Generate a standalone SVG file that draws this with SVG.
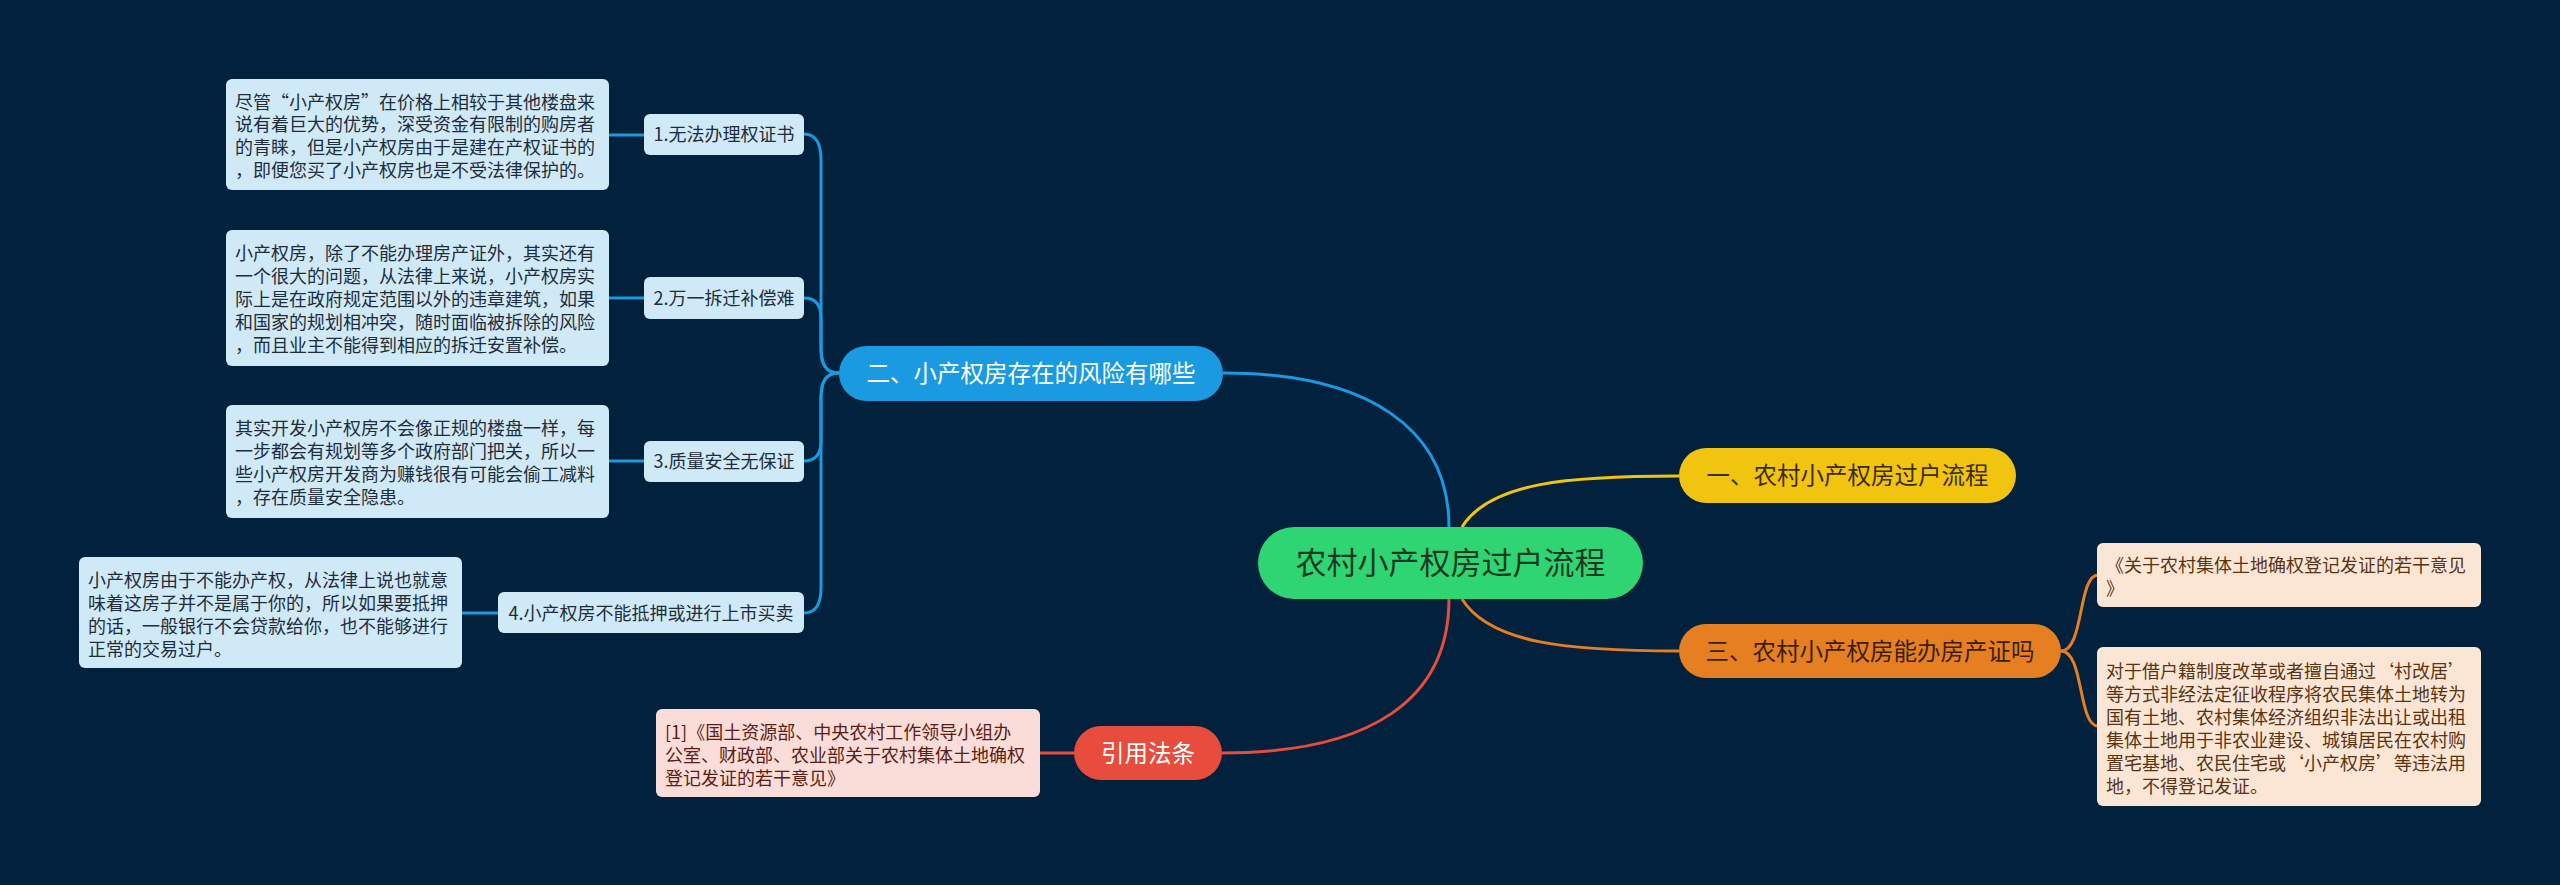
<svg xmlns="http://www.w3.org/2000/svg" width="2560" height="885" viewBox="0 0 2560 885">
<style>
text{font-family:"Noto Sans CJK SC","Noto Sans",sans-serif;}
.d{font-size:18px;fill:#1f2d3a;}
.dl{font-size:18px;fill:#1f2d3a;text-anchor:middle;}
.bx{fill:#cfe9f7;}
.br{font-size:23.5px;text-anchor:middle;}
.cb{fill:none;stroke:#1a9ae0;stroke-width:3;}
.rbox{fill:#fbe6d6;}
.rt{font-size:18px;fill:#5a3412;}
</style>
<rect x="0" y="0" width="2560" height="885" fill="#02213d"/>
<g id="connectors">
<path class="cb" d="M1449,527 C1449,430 1370,373 1223,373"/>
<path class="cb" d="M839,373 C826,373 821,365 821,345 L821,160 C821,143 816,134 804,134"/>
<path class="cb" d="M839,373 C826,373 821,365 821,350 L821,318 C821,306 816,298 804,298"/>
<path class="cb" d="M839,373 C826,373 821,381 821,396 L821,441 C821,453 816,461 804,461"/>
<path class="cb" d="M839,373 C826,373 821,381 821,401 L821,588 C821,604 816,613 804,613"/>
<path class="cb" d="M609,135 L644,135"/>
<path class="cb" d="M609,298 L644,298"/>
<path class="cb" d="M609,461 L644,461"/>
<path class="cb" d="M462,613 L498,613"/>
<path fill="none" stroke="#f1c40f" stroke-width="3" d="M1462,527 C1490,482 1570,476 1679,476"/>
<path fill="none" stroke="#e67e22" stroke-width="3" d="M1462,599 C1490,644 1570,651 1679,651"/>
<path fill="none" stroke="#e74c3c" stroke-width="3" d="M1449,599 C1449,700 1370,753 1222,753"/>
<path fill="none" stroke="#e74c3c" stroke-width="3" d="M1040,753 L1074,753"/>
<path fill="none" stroke="#e67e22" stroke-width="3" d="M2061,651 C2084,651 2078,575 2098,575"/>
<path fill="none" stroke="#e67e22" stroke-width="3" d="M2061,651 C2084,651 2078,726 2098,726"/>
</g>
<g id="central">
<rect x="1258" y="527" width="385" height="72" rx="36" fill="#2fd573"/>
<text x="1450.5" y="574" font-size="31" text-anchor="middle" fill="#183a22">农村小产权房过户流程</text>
</g>
<g id="branch2">
<rect x="839" y="346" width="384" height="55" rx="27.5" fill="#1a9ae0"/>
<text class="br" x="1031" y="381.5" fill="#ffffff">二、小产权房存在的风险有哪些</text>
</g>
<g id="branch1">
<rect x="1679" y="448" width="337" height="55" rx="27.5" fill="#f1c40f"/>
<text class="br" x="1847.5" y="484" fill="#3a2c00">一、农村小产权房过户流程</text>
</g>
<g id="branch3">
<rect x="1679" y="624" width="382" height="54" rx="27" fill="#e67e22"/>
<text class="br" x="1870" y="659.5" fill="#3a1e00">三、农村小产权房能办房产证吗</text>
</g>
<g id="cite">
<rect x="1074" y="726" width="148" height="54" rx="27" fill="#e74c3c"/>
<text class="br" x="1148" y="761.5" fill="#ffffff">引用法条</text>
</g>
<g id="c1">
<rect class="bx" x="644" y="114" width="160" height="41" rx="6"/>
<text class="dl" x="724" y="141">1.无法办理权证书</text>
</g>
<g id="c2">
<rect class="bx" x="644" y="277" width="160" height="42" rx="6"/>
<text class="dl" x="724" y="304.5">2.万一拆迁补偿难</text>
</g>
<g id="c3">
<rect class="bx" x="644" y="441" width="160" height="41" rx="6"/>
<text class="dl" x="724" y="467.5">3.质量安全无保证</text>
</g>
<g id="c4">
<rect class="bx" x="498" y="592" width="306" height="41" rx="6"/>
<text class="dl" x="651" y="619.5">4.小产权房不能抵押或进行上市买卖</text>
</g>
<g id="d1">
<rect class="bx" x="226" y="79" width="383" height="111" rx="6"/>
<text class="d" x="235" y="108.5">尽管“小产权房”在价格上相较于其他楼盘来</text>
<text class="d" x="235" y="131.3">说有着巨大的优势，深受资金有限制的购房者</text>
<text class="d" x="235" y="154.1">的青睐，但是小产权房由于是建在产权证书的</text>
<text class="d" x="235" y="176.9">，即便您买了小产权房也是不受法律保护的。</text>
</g>
<g id="d2">
<rect class="bx" x="226" y="230" width="383" height="136" rx="6"/>
<text class="d" x="235" y="259.5">小产权房，除了不能办理房产证外，其实还有</text>
<text class="d" x="235" y="282.7">一个很大的问题，从法律上来说，小产权房实</text>
<text class="d" x="235" y="305.9">际上是在政府规定范围以外的违章建筑，如果</text>
<text class="d" x="235" y="329.1">和国家的规划相冲突，随时面临被拆除的风险</text>
<text class="d" x="235" y="352.3">，而且业主不能得到相应的拆迁安置补偿。</text>
</g>
<g id="d3">
<rect class="bx" x="226" y="405" width="383" height="113" rx="6"/>
<text class="d" x="235" y="434.5">其实开发小产权房不会像正规的楼盘一样，每</text>
<text class="d" x="235" y="457.5">一步都会有规划等多个政府部门把关，所以一</text>
<text class="d" x="235" y="480.5">些小产权房开发商为赚钱很有可能会偷工减料</text>
<text class="d" x="235" y="503.5">，存在质量安全隐患。</text>
</g>
<g id="d4">
<rect class="bx" x="79" y="557" width="383" height="111" rx="6"/>
<text class="d" x="88" y="586.5">小产权房由于不能办产权，从法律上说也就意</text>
<text class="d" x="88" y="609.5">味着这房子并不是属于你的，所以如果要抵押</text>
<text class="d" x="88" y="632.5">的话，一般银行不会贷款给你，也不能够进行</text>
<text class="d" x="88" y="655.5">正常的交易过户。</text>
</g>
<g id="ref">
<rect x="656" y="709" width="384" height="88" rx="6" fill="#fadcd8"/>
<text x="665" y="738.5" font-size="18" fill="#5c1d14">[1]《国土资源部、中央农村工作领导小组办</text>
<text x="665" y="761.5" font-size="18" fill="#5c1d14">公室、财政部、农业部关于农村集体土地确权</text>
<text x="665" y="784.5" font-size="18" fill="#5c1d14">登记发证的若干意见》</text>
</g>
<g id="rA">
<rect class="rbox" x="2097" y="543" width="384" height="64" rx="6"/>
<text class="rt" x="2106" y="571.5">《关于农村集体土地确权登记发证的若干意见</text>
<text class="rt" x="2106" y="594.5">》</text>
</g>
<g id="rB">
<rect class="rbox" x="2097" y="647" width="384" height="159" rx="6"/>
<text class="rt" x="2106" y="677.5">对于借户籍制度改革或者擅自通过‘村改居’</text>
<text class="rt" x="2106" y="700.5">等方式非经法定征收程序将农民集体土地转为</text>
<text class="rt" x="2106" y="723.5">国有土地、农村集体经济组织非法出让或出租</text>
<text class="rt" x="2106" y="746.5">集体土地用于非农业建设、城镇居民在农村购</text>
<text class="rt" x="2106" y="769.5">置宅基地、农民住宅或‘小产权房’等违法用</text>
<text class="rt" x="2106" y="792.5">地，不得登记发证。</text>
</g>
</svg>
